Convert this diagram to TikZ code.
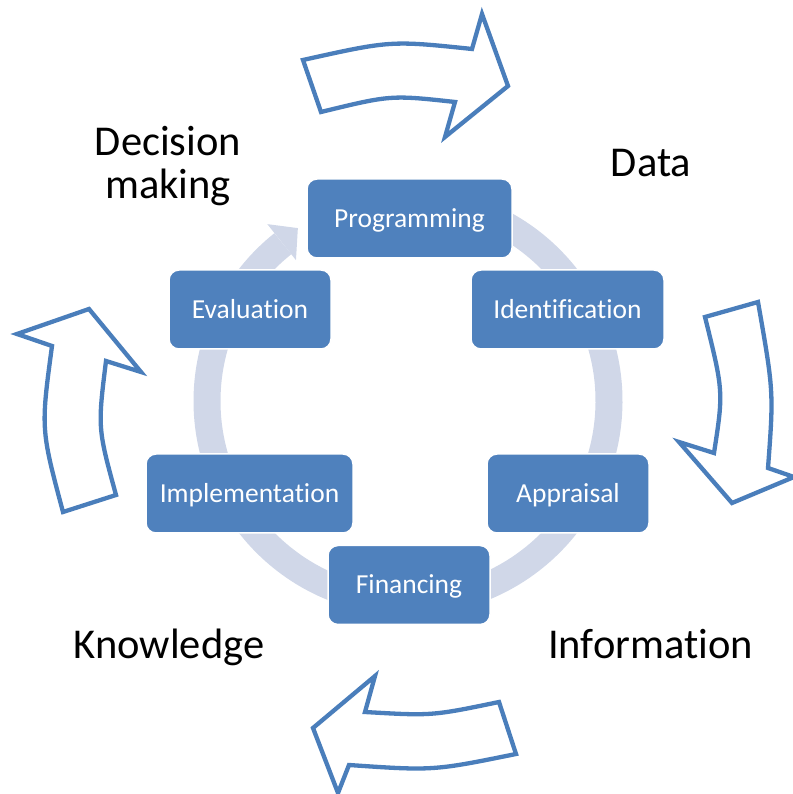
\documentclass[tikz,border=0pt]{standalone}
\usepackage{fontspec}
\setmainfont[Ligatures={NoCommon,NoContextual}]{Carlito}
\definecolor{boxblue}{RGB}{79,129,189}
\definecolor{ringgray}{RGB}{208,215,232}
\definecolor{arrowline}{RGB}{74,126,187}
\begin{document}
\begin{tikzpicture}[x=1pt,y=1pt,
  stage/.style={draw=white, line width=1.5pt, fill=boxblue, rounded corners=10pt,
    text=white, font=\fontsize{27.5}{30}\selectfont, minimum height=79pt,
    text height=17.7pt, text depth=0pt, inner sep=0pt},
  phase/.style={font=\fontsize{42.5}{43}\selectfont, text=black, inner sep=0pt, align=center},
  blockarrow/.style={draw=arrowline, line width=4.3pt, fill=white, line join=miter}]
\useasboundingbox (0,0) rectangle (792,794);
% ring behind the stages
\coordinate (c) at (408,393);
\draw[ringgray, line width=27pt] ([shift={(88:201)}]c) arc[start angle=88, end angle=-231.5, radius=201];
\fill[ringgray] ([shift={(128.5:180)}]c) -- ([shift={(128.5:226)}]c) -- ([shift={(122.5:205)}]c) -- cycle;
% stages
\node[stage, minimum width=205pt] (prog) at (409.5,575.5) {Programming};
\node[stage, minimum width=193pt] (ident) at (567.5,484.5) {Identification};
\node[stage, minimum width=162pt] (appr) at (568,300.5) {Appraisal};
\node[stage, minimum width=162pt] (fin) at (409,209) {Financing};
\node[stage, minimum width=207pt] (impl) at (249.5,300.5) {Implementation};
\node[stage, minimum width=162pt] (eval) at (250,484.5) {Evaluation};
% outer labels
\node[phase, anchor=base] (data) at (651,617) {Data};
\node[phase, anchor=base] (know) at (169,135) {Knowledge};
\node[phase, anchor=base] (info) at (650.5,135) {Information};
\node[phase] (dec) at (168,628) {Decision\\making};
% block arrows
\draw[blockarrow] (303,734) -- (321,682) .. controls (390.7,699) .. (455,692) -- (445,657)
  -- (508,708) -- (482,780) -- (472,745) .. controls (390.8,753.5) .. (303,734) -- cycle;
\draw[blockarrow] (705,477) -- (758,492) .. controls (773.7,402.4) .. (768,326) -- (794,317)
  -- (732,291) -- (679,352) -- (714,341) .. controls (723.5,402.4) .. (705,477) -- cycle;
\draw[blockarrow] (63,282) -- (116,299) .. controls (97.7,366) .. (106,433) -- (141,422)
  -- (89,485) -- (17,460) -- (52,448) .. controls (40.8,365) .. (63,282) -- cycle;
\draw[blockarrow] (499,92) -- (516,40) .. controls (433.2,23.2) .. (349,29) -- (338,1)
  -- (313,66) -- (375,118) -- (365,82) .. controls (432,78.1) .. (499,92) -- cycle;
\end{tikzpicture}
\end{document}
